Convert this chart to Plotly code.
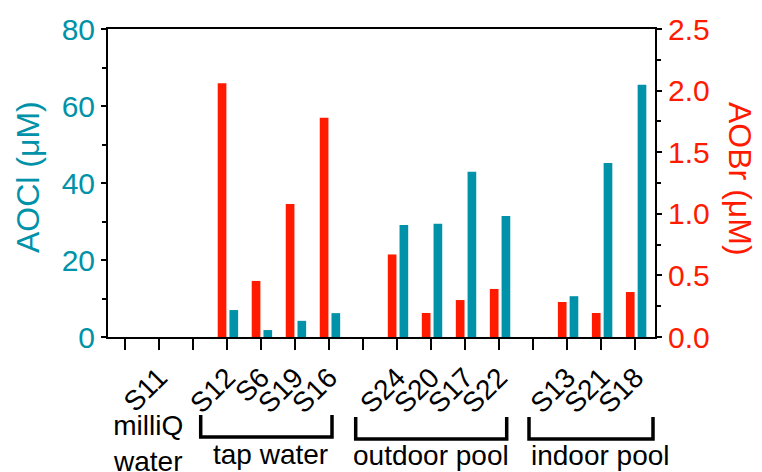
import plotly.graph_objects as go

# ---- data ----
sample_labels = ["", "S11", "", "S12", "S6", "S19", "S16", "", "S24", "S20", "S17", "S22", "", "S13", "S21", "S18"]
aobr = [None, 0, None, 2.06, 0.455, 1.08, 1.78, None, 0.67, 0.195, 0.30, 0.39, None, 0.284, 0.195, 0.365]
aocl = [None, 0, None, 7.0, 1.8, 4.2, 6.2, None, 29.1, 29.4, 42.9, 31.4, None, 10.6, 45.2, 65.5]
group_names = ["milliQ<br>water", "tap water", "outdoor pool", "indoor pool"]

TEAL = "#0092A8"
RED = "#FF1A00"
FONT = "Liberation Sans, Arial, sans-serif"

xpos = list(range(len(sample_labels)))

fig = go.Figure()
fig.add_trace(go.Bar(x=xpos, y=aobr, yaxis="y2", marker=dict(color=RED, line=dict(width=0)),
                     offset=-0.275, width=0.255, name="AOBr"))
fig.add_trace(go.Bar(x=xpos, y=aocl, yaxis="y", marker=dict(color=TEAL, line=dict(width=0)),
                     offset=0.07, width=0.255, name="AOCl"))

# plot-area geometry in pixels (for decorations)
L, R, T, B = 108, 655, 29, 337
W, H = R - L, B - T
def px(x): return (x - L) / W
def py(y): return (B - y) / H

shapes = []
brackets = [(200.7, 332, 415, 437), (355.7, 506.7, 417, 439), (529, 653, 417, 439)]
for x0, x1, yt, yb in brackets:
    shapes.append(dict(type="path", xref="paper", yref="paper",
                       path=f"M {px(x0)},{py(yt)} L {px(x0)},{py(yb)} L {px(x1)},{py(yb)} L {px(x1)},{py(yt)}",
                       line=dict(color="black", width=3.5)))

annotations = []
group_pos = [(148, 443), (270, 454), (431, 456), (600, 456)]
for name, (gx, gy) in zip(group_names, group_pos):
    annotations.append(dict(text=name, xref="paper", yref="paper", x=px(gx), y=py(gy),
                            showarrow=False, xanchor="center", yanchor="middle",
                            font=dict(family=FONT, size=28, color="black")))
annotations.append(dict(text="AOCl (μM)", xref="paper", yref="paper", x=px(28), y=py(177),
                        textangle=-90, showarrow=False, xanchor="center", yanchor="middle",
                        font=dict(family=FONT, size=32, color=TEAL)))
annotations.append(dict(text="AOBr (μM)", xref="paper", yref="paper", x=px(740), y=py(179),
                        textangle=90, showarrow=False, xanchor="center", yanchor="middle",
                        font=dict(family=FONT, size=32, color=RED)))

fig.update_layout(
    width=762, height=472,
    margin=dict(l=L, r=762 - R, t=T, b=472 - B),
    paper_bgcolor="white", plot_bgcolor="white",
    showlegend=False,
    font=dict(family=FONT),
    xaxis=dict(range=[-0.5, 15.58], tickmode="array", tickvals=xpos, ticktext=sample_labels,
               tickangle=-45, tickfont=dict(family=FONT, size=28, color="black"),
               ticks="outside", ticklen=11, tickwidth=2, tickcolor="black",
               showline=True, linecolor="black", linewidth=2, mirror=True,
               showgrid=False, zeroline=False),
    yaxis=dict(range=[0, 80], tickvals=[0, 20, 40, 60, 80],
               tickfont=dict(family=FONT, size=30, color=TEAL),
               ticks="outside", ticklen=5, tickwidth=2, tickcolor="black",
               minor=dict(ticks="outside", ticklen=4, tickwidth=2, tickcolor="black", dtick=10, showgrid=False),
               showline=True, linecolor="black", linewidth=2,
               showgrid=False, zeroline=False),
    yaxis2=dict(range=[0, 2.5], tickvals=[0, 0.5, 1.0, 1.5, 2.0, 2.5], tickformat=".1f",
                overlaying="y", side="right",
                tickfont=dict(family=FONT, size=30, color=RED),
                ticks="outside", ticklen=5, tickwidth=2, tickcolor="black",
                minor=dict(ticks="outside", ticklen=4, tickwidth=2, tickcolor="black", dtick=0.25, showgrid=False),
                showline=True, linecolor="black", linewidth=2,
                showgrid=False, zeroline=False),
    shapes=shapes, annotations=annotations,
)

fig.write_html("out.html")
